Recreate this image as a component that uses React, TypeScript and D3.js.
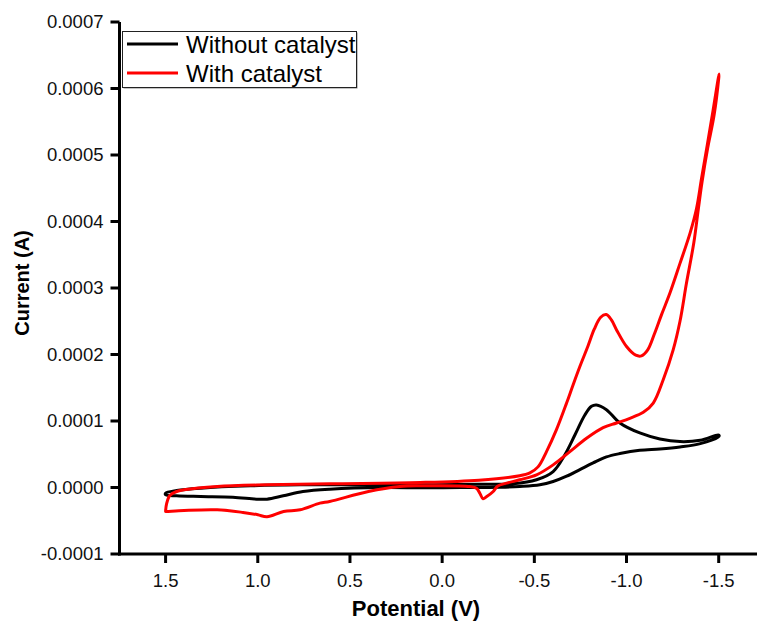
import React from "react";
import * as d3 from "d3";

// Potential (V) and current (A) pairs, ordered around the closed CV loop
const withoutV = [1.5, 1.44, 1.31, 1.04, 0.77, 0.41, 0.05, -0.2, -0.385, -0.512, -0.602, -0.665, -0.72, -0.774, -0.81, -0.837, -0.891, -0.964, -1.072, -1.181, -1.29, -1.4, -1.497, -1.503, -1.497, -1.4, -1.29, -1.181, -1.072, -0.964, -0.891, -0.819, -0.747, -0.675, -0.602, -0.53, -0.421, -0.313, -0.1, 0.1, 0.32, 0.61, 0.755, 0.862, 0.95, 1.006, 1.135, 1.31, 1.44, 1.5];
const withoutI = [-0.085e-4, -0.045e-4, -0.01e-4, 0.025e-4, 0.04e-4, 0.04e-4, 0.04e-4, 0.05e-4, 0.056e-4, 0.116e-4, 0.24e-4, 0.49e-4, 0.79e-4, 1.09e-4, 1.22e-4, 1.24e-4, 1.17e-4, 0.97e-4, 0.82e-4, 0.73e-4, 0.69e-4, 0.71e-4, 0.79e-4, 0.78e-4, 0.76e-4, 0.66e-4, 0.61e-4, 0.58e-4, 0.56e-4, 0.51e-4, 0.46e-4, 0.37e-4, 0.27e-4, 0.17e-4, 0.09e-4, 0.04e-4, 0.015e-4, 0.005e-4, 0.0, -0.005e-4, 0.0, -0.025e-4, -0.06e-4, -0.125e-4, -0.175e-4, -0.175e-4, -0.145e-4, -0.135e-4, -0.125e-4, -0.11e-4];

const withV = [1.5, 1.495, 1.477, 1.44, 1.4, 1.22, 0.95, 0.61, 0.12, -0.2, -0.42, -0.476, -0.52, -0.566, -0.62, -0.675, -0.711, -0.747, -0.79, -0.825, -0.86, -0.89, -0.918, -0.946, -1.0, -1.05, -1.081, -1.115, -1.15, -1.19, -1.235, -1.29, -1.345, -1.38, -1.407, -1.438, -1.47, -1.502, -1.5, -1.475, -1.44, -1.41, -1.39, -1.365, -1.325, -1.29, -1.253, -1.199, -1.145, -1.091, -1.018, -0.946, -0.873, -0.783, -0.693, -0.602, -0.512, -0.42, -0.35, -0.3, -0.277, -0.24, -0.222, -0.205, -0.186, -0.15, 0.12, 0.23, 0.4, 0.61, 0.663, 0.77, 0.86, 0.95, 1.0, 1.08, 1.22, 1.4, 1.495, 1.5];
const withI = [-0.36e-4, -0.25e-4, -0.12e-4, -0.06e-4, -0.035e-4, 0.015e-4, 0.04e-4, 0.056e-4, 0.075e-4, 0.11e-4, 0.176e-4, 0.22e-4, 0.31e-4, 0.54e-4, 0.87e-4, 1.27e-4, 1.55e-4, 1.82e-4, 2.12e-4, 2.38e-4, 2.56e-4, 2.6e-4, 2.52e-4, 2.37e-4, 2.12e-4, 1.99e-4, 1.98e-4, 2.07e-4, 2.3e-4, 2.6e-4, 2.92e-4, 3.37e-4, 3.83e-4, 4.2e-4, 4.65e-4, 5.15e-4, 5.68e-4, 6.22e-4, 6.15e-4, 5.6e-4, 5.1e-4, 4.6e-4, 4.2e-4, 3.68e-4, 3.07e-4, 2.5e-4, 2.07e-4, 1.62e-4, 1.27e-4, 1.13e-4, 1.04e-4, 0.97e-4, 0.9e-4, 0.74e-4, 0.54e-4, 0.34e-4, 0.19e-4, 0.116e-4, 0.066e-4, 0.02e-4, -0.06e-4, -0.14e-4, -0.17e-4, -0.09e-4, -0.01e-4, 0.015e-4, 0.026e-4, 0.015e-4, -0.06e-4, -0.21e-4, -0.235e-4, -0.335e-4, -0.36e-4, -0.44e-4, -0.41e-4, -0.375e-4, -0.335e-4, -0.345e-4, -0.36e-4, -0.36e-4];

const xTicks = [1.5, 1.0, 0.5, 0.0, -0.5, -1.0, -1.5];
const yTicks = [-0.0001, 0.0, 0.0001, 0.0002, 0.0003, 0.0004, 0.0005, 0.0006, 0.0007];
const seriesNames = ["Without catalyst", "With catalyst"];
const seriesColors = ["#000000", "#ff0000"];

const W = 757;
const H = 622;
const FONT = "'Liberation Sans', Arial, sans-serif";

export default function App() {
  const x = d3.scaleLinear().domain([1.75, -1.75]).range([119.5, 764.8]);
  const y = d3.scaleLinear().domain([-0.0001, 0.0007]).range([554, 22]);
  const line = d3
    .line<[number, number]>()
    .x((d) => x(d[0]))
    .y((d) => y(d[1]))
    .curve(d3.curveCatmullRomClosed.alpha(0.5));

  const series = [
    withoutV.map((v, i) => [v, withoutI[i]] as [number, number]),
    withV.map((v, i) => [v, withI[i]] as [number, number]),
  ];

  const x0 = x.range()[0];
  const yBottom = y.range()[0];
  const yTop = y.range()[1];

  return (
    <svg
      width={W}
      height={H}
      style={{ position: "absolute", left: 0, top: 0, background: "#fff" }}
      fontFamily={FONT}
    >
      <rect x={0} y={0} width={W} height={H} fill="#fff" />
      {series.map((s, i) => (
        <path
          key={i}
          d={line(s) || ""}
          fill="none"
          stroke={seriesColors[i]}
          strokeWidth={3}
          strokeLinejoin="round"
        />
      ))}
      <line x1={x0} y1={yTop} x2={x0} y2={yBottom + 1.5} stroke="#000" strokeWidth={3} />
      <line x1={x0 - 1.5} y1={yBottom} x2={W} y2={yBottom} stroke="#000" strokeWidth={3} />
      {yTicks.map((t) => (
        <g key={t}>
          <line x1={x0 - 9} x2={x0} y1={y(t)} y2={y(t)} stroke="#000" strokeWidth={3} />
          <text x={x0 - 16} y={y(t)} dy="0.35em" textAnchor="end" fontSize={18.5} fill="#111">
            {d3.format(".4f")(t).replace("−", "-")}
          </text>
        </g>
      ))}
      {xTicks.map((t) => (
        <g key={t}>
          <line x1={x(t)} x2={x(t)} y1={yBottom} y2={yBottom + 9} stroke="#000" strokeWidth={3} />
          <text x={x(t)} y={587} textAnchor="middle" fontSize={18.5} fill="#111">
            {d3.format(".1f")(t).replace("−", "-")}
          </text>
        </g>
      ))}
      <text x={416} y={616} textAnchor="middle" fontSize={22} fontWeight="bold" fill="#000">
        Potential (V)
      </text>
      <text
        transform={`translate(29,283) rotate(-90)`}
        textAnchor="middle"
        fontSize={20}
        fontWeight="bold"
        fill="#000"
      >
        Current (A)
      </text>
      <rect x={123.5} y={32.5} width={234} height={56} fill="#888" />
      <rect x={122.5} y={31.5} width={234} height={56} fill="#fff" stroke="#222" strokeWidth={1} />
      {seriesNames.map((n, i) => (
        <g key={n}>
          <line x1={127} x2={178} y1={44 + i * 29} y2={44 + i * 29} stroke={seriesColors[i]} strokeWidth={3} />
          <text x={186} y={44 + i * 29} dy="0.36em" fontSize={24} fill="#000">
            {n}
          </text>
        </g>
      ))}
    </svg>
  );
}
